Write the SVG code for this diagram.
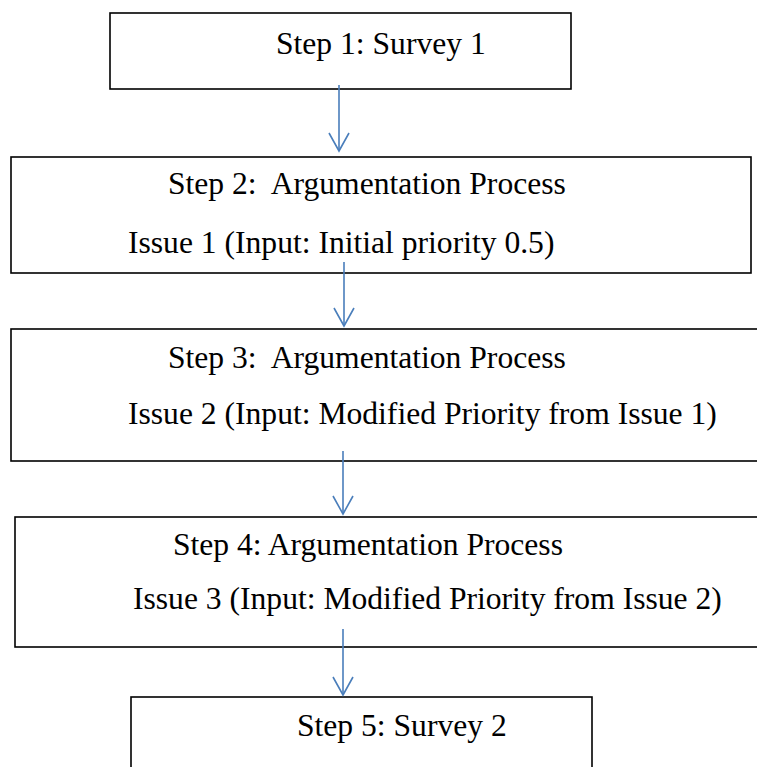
<svg xmlns="http://www.w3.org/2000/svg" width="757" height="767" viewBox="0 0 757 767">
  <style>
    .box { fill: #ffffff; stroke: #000000; stroke-width: 1.6; }
    .lbl { font-family: "Liberation Serif", "Times New Roman", serif; font-size: 31.6px; fill: #000000; white-space: pre; }
    .conn { stroke: #4a7ebb; stroke-width: 1.6; fill: none; }
  </style>
  <defs>
    <marker id="vhead" markerUnits="userSpaceOnUse" markerWidth="24" markerHeight="24" viewBox="-20 -12 24 24" refX="0" refY="0" orient="auto" overflow="visible">
      <path d="M-18,-10 L0,0 L-18,10" fill="none" stroke="#4a7ebb" stroke-width="1.6"/>
    </marker>
  </defs>
  <rect width="757" height="767" fill="#ffffff"/>

  <g id="step1">
    <rect class="box" x="110" y="13" width="461" height="76"/>
    <text class="lbl" x="276" y="54">Step 1: Survey 1</text>
  </g>
  <g id="step2">
    <rect class="box" x="11" y="157" width="740" height="116"/>
    <text class="lbl" x="168" y="194" xml:space="preserve">Step 2:  Argumentation Process</text>
    <text class="lbl" x="128" y="253">Issue 1 (Input: Initial priority 0.5)</text>
  </g>
  <g id="step3">
    <rect class="box" x="11" y="329" width="760" height="132"/>
    <text class="lbl" x="168" y="368" xml:space="preserve">Step 3:  Argumentation Process</text>
    <text class="lbl" x="128" y="424">Issue 2 (Input: Modified Priority from Issue 1)</text>
  </g>
  <g id="step4">
    <rect class="box" x="15" y="517" width="760" height="130"/>
    <text class="lbl" x="173" y="555">Step 4: Argumentation Process</text>
    <text class="lbl" x="133" y="609">Issue 3 (Input: Modified Priority from Issue 2)</text>
  </g>
  <g id="step5">
    <rect class="box" x="131" y="697" width="461" height="90"/>
    <text class="lbl" x="297" y="736">Step 5: Survey 2</text>
  </g>

  <g id="connectors">
    <line class="conn" x1="339" y1="85" x2="339" y2="151" marker-end="url(#vhead)"/>
    <line class="conn" x1="344" y1="262" x2="344" y2="326" marker-end="url(#vhead)"/>
    <line class="conn" x1="343" y1="451" x2="343" y2="514" marker-end="url(#vhead)"/>
    <line class="conn" x1="343" y1="629" x2="343" y2="695" marker-end="url(#vhead)"/>
  </g>
</svg>
